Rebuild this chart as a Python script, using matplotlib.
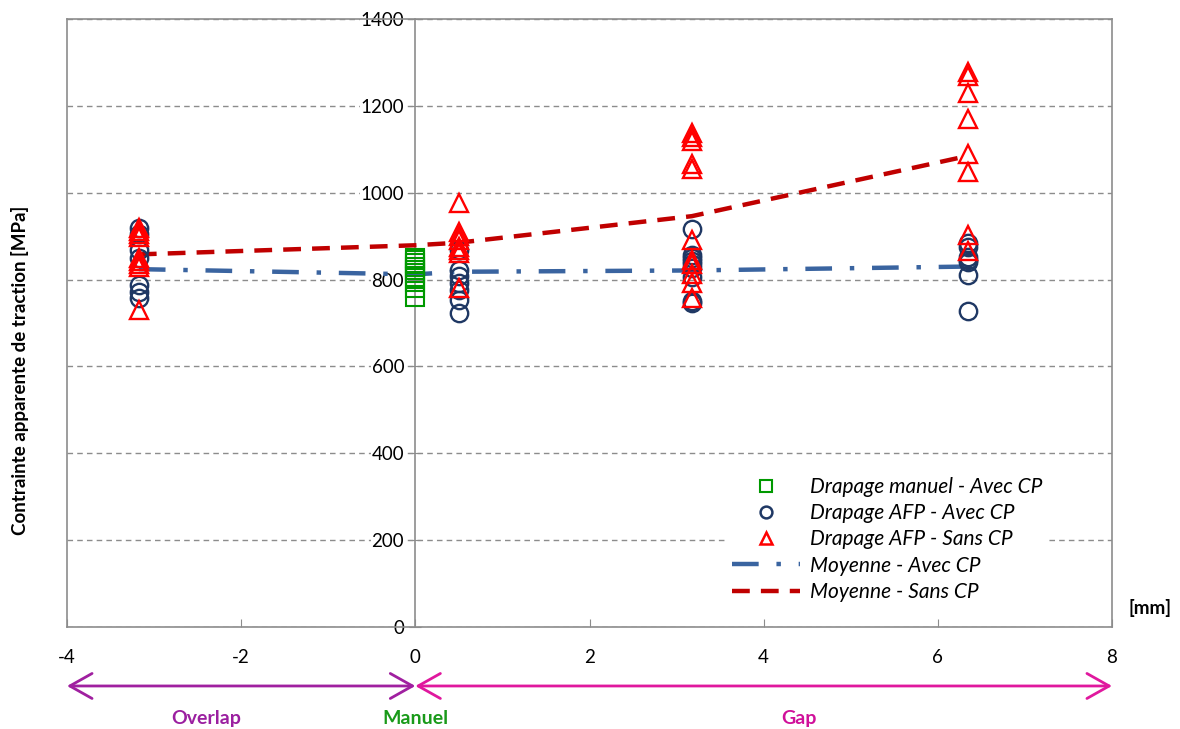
import matplotlib
matplotlib.use("Agg")
import matplotlib.pyplot as plt
from matplotlib.lines import Line2D

plt.rcParams["font.family"] = ["Lato", "DejaVu Sans"]
plt.rcParams["axes.unicode_minus"] = False

# positions (mm): overlap, manual, gaps
x_overlap = -3.175
x_manuel = 0.0
x_gaps = [0.5, 3.175, 6.35]

# Drapage manuel - Avec CP
manuel_avec = [850, 845, 838, 830, 822, 815, 805, 795, 780, 760]

# Drapage AFP - Avec CP
afp_avec = {
    -3.175: [918, 905, 868, 850, 787, 772, 757],
    0.5: [868, 822, 808, 792, 776, 753, 722],
    3.175: [916, 857, 850, 843, 836, 826, 806, 750, 745],
    6.35: [884, 875, 852, 845, 840, 810, 728],
}

# Drapage AFP - Sans CP
afp_sans = {
    -3.175: [918, 912, 905, 898, 850, 843, 836, 830, 730],
    0.5: [976, 910, 900, 890, 875, 868, 862, 780],
    3.175: [1137, 1128, 1120, 1065, 1055, 891, 845, 835, 813, 792, 758],
    6.35: [1278, 1268, 1230, 1170, 1089, 1048, 903, 866],
}

# mean curves
mean_x = [-3.175, 0, 0.5, 3.175, 6.35]
mean_avec = [824, 812, 818, 821, 830]
mean_sans = [858, 879, 885, 946, 1085]

y_ticks = [0, 200, 400, 600, 800, 1000, 1200, 1400]
x_ticks = [-4, -2, 0, 2, 4, 6, 8]

# zone labels below the axis
zones = ["Overlap", "Manuel", "Gap"]
zone_x = [-2.4, 0, 4.4]
zone_colors = ["#9B1FA0", "#1A9A1A", "#D0109A"]

c_green = "#009900"
c_navy = "#1F3864"
c_red = "#FF0000"
c_blue_mean = "#3A64A0"
c_red_mean = "#C00000"
c_grey = "#8C8C8C"

fig = plt.figure(figsize=(11.8, 7.29), dpi=100)
ax = fig.add_axes([67 / 1180, 102 / 729, 1045 / 1180, 608 / 729])

# scatter series
ax.plot([x_manuel] * len(manuel_avec), manuel_avec, ls="none", marker="s",
        ms=13, mfc="none", mec=c_green, mew=1.5, zorder=4)
for xv, vals in afp_avec.items():
    ax.plot([xv] * len(vals), vals, ls="none", marker="o", ms=12.5,
            mfc="none", mec=c_navy, mew=1.7, zorder=4)
for xv, vals in afp_sans.items():
    ax.plot([xv] * len(vals), vals, ls="none", marker="^", ms=13.5,
            mfc="none", mec=c_red, mew=1.7, zorder=5)

ax.plot(mean_x, mean_avec, color=c_blue_mean, lw=3.2,
        dashes=(6, 4, 1, 4), zorder=3)
ax.plot(mean_x, mean_sans, color=c_red_mean, lw=3.2, dashes=(4, 2.5), zorder=3)

ax.set_xlim(-4, 8)
ax.set_ylim(0, 1400)
ax.set_xticks(x_ticks)
ax.set_yticks(y_ticks)

# y axis through x = 0, frame drawn in grey
ax.spines["left"].set_position(("data", 0))
for s in ["left", "right", "top", "bottom"]:
    ax.spines[s].set_color(c_grey)
    ax.spines[s].set_linewidth(1.2)
ax.axvline(-4, color=c_grey, lw=1.2, clip_on=False, zorder=1)

ax.yaxis.grid(True, color=c_grey, ls=(0, (4, 3)), lw=1)
ax.set_axisbelow(True)
ax.tick_params(axis="y", direction="inout", length=8, color=c_grey,
               labelsize=13.5, pad=4)
ax.tick_params(axis="x", direction="in", length=6, color=c_grey,
               labelsize=13.5, pad=16)
for lab in ax.get_yticklabels():
    lab.set_bbox(dict(facecolor="white", edgecolor="none", pad=0.5))

fig.text(20 / 1180, 1 - 370 / 729, "Contrainte apparente de traction [MPa]",
         rotation=90, ha="center", va="center", fontsize=13.5, fontweight="bold")
fig.text(1150 / 1180, 1 - 608 / 729, "[mm]", ha="center", va="center",
         fontsize=13.5, fontweight="bold")

# legend
handles = [
    Line2D([0], [0], ls="none", marker="s", ms=8.5, mfc="none", mec=c_green, mew=1.5),
    Line2D([0], [0], ls="none", marker="o", ms=8.5, mfc="none", mec=c_navy, mew=1.8),
    Line2D([0], [0], ls="none", marker="^", ms=8.5, mfc="none", mec=c_red, mew=1.8),
    Line2D([0], [0], color=c_blue_mean, lw=3.2, dashes=(6, 4, 1, 4)),
    Line2D([0], [0], color=c_red_mean, lw=3.2, dashes=(4, 2.5)),
]
labels = ["Drapage manuel - Avec CP", "Drapage AFP - Avec CP",
          "Drapage AFP - Sans CP", "Moyenne - Avec CP", "Moyenne - Sans CP"]
leg = ax.legend(handles, labels, loc="lower left", bbox_to_anchor=(0.62, 0.014),
                numpoints=1, handlelength=3.3, handletextpad=0.45,
                labelspacing=0.3, prop={"style": "italic", "size": 15},
                frameon=True, facecolor="white", edgecolor="none", framealpha=1,
                borderpad=0.3)

# bottom region arrows
c_overlap = "#A020A0"
c_gap = "#E0189E"
y_arrow = -0.097
ax.annotate("", xy=(-4, y_arrow), xytext=(0, y_arrow),
            xycoords=("data", "axes fraction"), textcoords=("data", "axes fraction"),
            arrowprops=dict(arrowstyle="<->,head_length=0.8,head_width=0.45",
                            color=c_overlap, lw=2, mutation_scale=20,
                            shrinkA=0, shrinkB=0), annotation_clip=False)
ax.annotate("", xy=(0, y_arrow), xytext=(8, y_arrow),
            xycoords=("data", "axes fraction"), textcoords=("data", "axes fraction"),
            arrowprops=dict(arrowstyle="<->,head_length=0.8,head_width=0.45",
                            color=c_gap, lw=2, mutation_scale=20,
                            shrinkA=0, shrinkB=0), annotation_clip=False)
for name, xz, cz in zip(zones, zone_x, zone_colors):
    ax.text(xz, -0.15, name, transform=ax.get_xaxis_transform(), ha="center",
            va="center", color=cz, fontsize=14, fontweight="bold")

fig.savefig("out.png", dpi=100)
